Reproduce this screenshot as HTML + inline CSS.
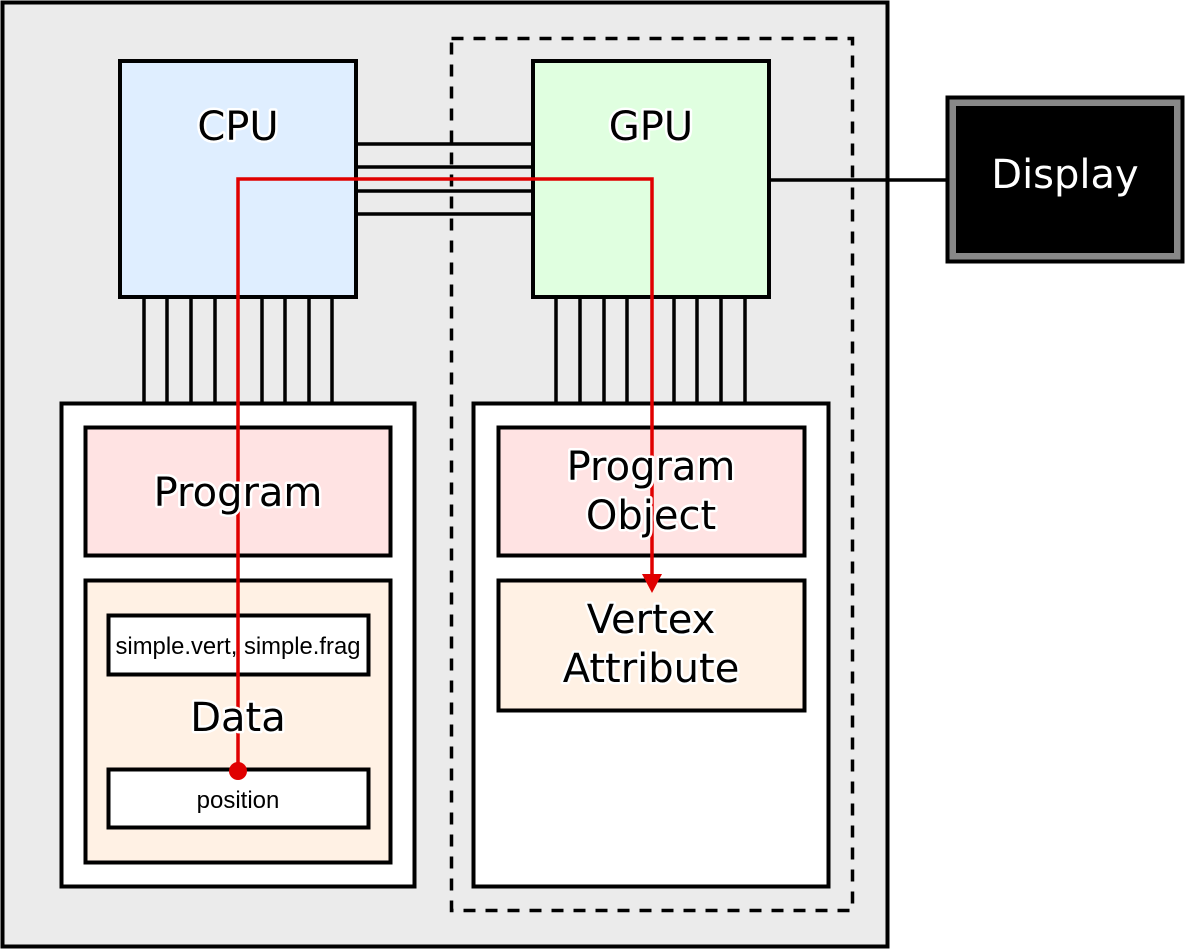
<!DOCTYPE html>
<html><head><meta charset="utf-8"><style>html,body{margin:0;padding:0;background:#fff}svg{display:block}
.t{font-family:"DejaVu Sans","Liberation Sans",sans-serif;font-size:40px;fill:#000;stroke:#fff;stroke-width:5px;paint-order:stroke;stroke-linejoin:round;text-anchor:middle}
.s{font-family:"Liberation Sans",sans-serif;font-size:24px;fill:#000;text-anchor:middle}
</style></head><body>
<svg width="1186" height="950" viewBox="0 0 1186 950" xmlns="http://www.w3.org/2000/svg">
<rect x="2.5" y="2.5" width="885" height="944" fill="#ebebeb" stroke="#000" stroke-width="4"/>
<rect x="451.5" y="38.5" width="401" height="872" fill="none" stroke="#000" stroke-width="3.5" stroke-dasharray="12,10"/>
<g stroke="#000" stroke-width="3.5">
<line x1="356" y1="144" x2="533" y2="144"/><line x1="356" y1="167" x2="533" y2="167"/>
<line x1="356" y1="191" x2="533" y2="191"/><line x1="356" y1="214" x2="533" y2="214"/>
<line x1="769" y1="180" x2="947" y2="180"/>
<line x1="144" y1="297" x2="144" y2="403"/><line x1="167" y1="297" x2="167" y2="403"/><line x1="191" y1="297" x2="191" y2="403"/><line x1="215" y1="297" x2="215" y2="403"/><line x1="262" y1="297" x2="262" y2="403"/><line x1="285" y1="297" x2="285" y2="403"/><line x1="309" y1="297" x2="309" y2="403"/><line x1="332" y1="297" x2="332" y2="403"/>
<line x1="556" y1="297" x2="556" y2="403"/><line x1="580" y1="297" x2="580" y2="403"/><line x1="604" y1="297" x2="604" y2="403"/><line x1="627" y1="297" x2="627" y2="403"/><line x1="674" y1="297" x2="674" y2="403"/><line x1="697" y1="297" x2="697" y2="403"/><line x1="721" y1="297" x2="721" y2="403"/><line x1="745" y1="297" x2="745" y2="403"/>
</g>
<rect x="120" y="61" width="236" height="236" fill="#dfeeff" stroke="#000" stroke-width="4"/>
<rect x="533" y="61" width="236" height="236" fill="#e0ffe0" stroke="#000" stroke-width="4"/>
<rect x="947.5" y="97.5" width="235" height="164" fill="#888" stroke="#000" stroke-width="4"/>
<rect x="956" y="106" width="218" height="147" fill="#000"/>
<text x="1065" y="188" font-family="DejaVu Sans,sans-serif" font-size="40" fill="#fff" text-anchor="middle">Display</text>
<rect x="61.5" y="403.5" width="353" height="483" fill="#fff" stroke="#000" stroke-width="4"/>
<rect x="85.5" y="427.5" width="305" height="128" fill="#ffe3e3" stroke="#000" stroke-width="4"/>
<rect x="85.5" y="580.5" width="305" height="282" fill="#fff1e4" stroke="#000" stroke-width="4"/>
<rect x="108.5" y="615.5" width="260" height="59" fill="#fff" stroke="#000" stroke-width="4"/>
<rect x="108.5" y="769.5" width="260" height="58" fill="#fff" stroke="#000" stroke-width="4"/>
<rect x="473.5" y="403.5" width="355" height="483" fill="#fff" stroke="#000" stroke-width="4"/>
<rect x="498.5" y="427.5" width="306" height="128" fill="#ffe3e3" stroke="#000" stroke-width="4"/>
<rect x="498.5" y="580.5" width="306" height="130" fill="#fff1e4" stroke="#000" stroke-width="4"/>
<polyline points="238,771 238,179 652,179 652,578" fill="none" stroke="#e00000" stroke-width="3.5"/>
<polygon points="642,574 662,574 652,593" fill="#e00000"/>
<circle cx="238" cy="771" r="9" fill="#e00000"/>
<text class="t" x="238" y="140">CPU</text>
<text class="t" x="651" y="140">GPU</text>
<text class="t" x="238" y="506">Program</text>
<text class="t" x="651" y="480">Program</text>
<text class="t" x="651" y="529">Object</text>
<text class="t" x="651" y="633">Vertex</text>
<text class="t" x="651" y="682">Attribute</text>
<text class="t" x="238" y="731">Data</text>
<text class="s" x="238" y="654" textLength="245" lengthAdjust="spacingAndGlyphs">simple.vert, simple.frag</text>
<text class="s" x="238" y="808">position</text>
</svg>
</body></html>
